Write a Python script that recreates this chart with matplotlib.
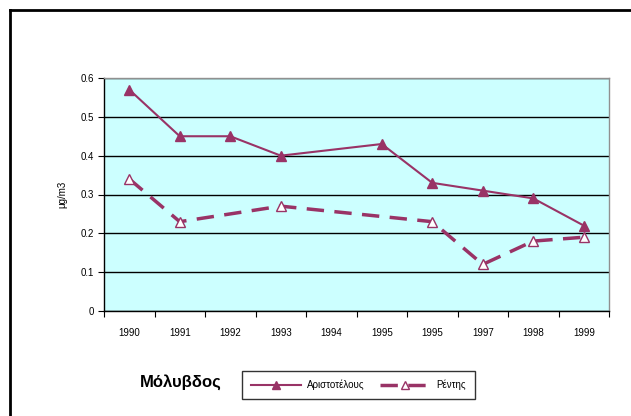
import numpy as np
import matplotlib
matplotlib.use("Agg")
import matplotlib.pyplot as plt
from matplotlib.lines import Line2D

plt.rcParams['font.family'] = ['Liberation Sans', 'DejaVu Sans']

years = ['1990', '1991', '1992', '1993', '1994', '1995', '1995', '1997', '1998', '1999']
aristotelous = [0.57, 0.45, 0.45, 0.40, np.nan, 0.43, 0.33, 0.31, 0.29, 0.22]
rentis = [0.34, 0.23, np.nan, 0.27, np.nan, np.nan, 0.23, 0.12, 0.18, 0.19]

color = '#993366'

fig = plt.figure(figsize=(6.31, 4.16), dpi=100)
ax = fig.add_axes([104/631, 1 - 311/416, 505/631, 233/416])
ax.set_facecolor('#CCFFFF')

x = np.arange(len(years))
a = np.array(aristotelous)
r = np.array(rentis)
ma = ~np.isnan(a)
mr = ~np.isnan(r)
ax.plot(x[ma], a[ma], color=color, lw=1.5, marker='^', ms=7,
        mfc=color, mec=color, label='Αριστοτέλους', zorder=3)
ax.plot(x[mr], r[mr], color=color, lw=2.5, ls=(0, (5, 3)), marker='^', ms=7,
        mfc='white', mec=color, mew=1.0, label='Ρέντης', zorder=3)

ax.set_xlim(-0.5, len(years) - 0.5)
ax.set_ylim(0, 0.6)
ax.set_yticks(np.arange(0, 0.61, 0.1))
ax.set_yticklabels(['0', '0.1', '0.2', '0.3', '0.4', '0.5', '0.6'], fontsize=7)
ax.yaxis.grid(True, color='black', lw=1)
ax.set_axisbelow(True)

ax.set_xticks(np.arange(-0.5, len(years), 1))
ax.set_xticklabels([])
ax.set_xticks(x, minor=True)
ax.set_xticklabels(years, minor=True, fontsize=7)
ax.tick_params(axis='x', which='minor', length=0, pad=12)
ax.tick_params(axis='x', which='major', length=4, direction='out', color='black')
ax.tick_params(axis='y', length=4, direction='out', pad=3)

for s in ['top', 'right']:
    ax.spines[s].set_color('#909090')
    ax.spines[s].set_linewidth(1)
for s in ['left', 'bottom']:
    ax.spines[s].set_color('black')
    ax.spines[s].set_linewidth(1)

ax.set_ylabel('μg/m3', fontsize=7, labelpad=10)

fig.text(140/631, 1 - 382/416, 'Μόλυβδος', fontsize=12, fontweight='bold',
         va='center', ha='left')
leg = fig.legend(loc='center left', bbox_to_anchor=(237/631, 1 - 385/416),
                 ncol=2, fontsize=7, handlelength=5.2, frameon=True,
                 fancybox=False, edgecolor='black', borderpad=0.9,
                 columnspacing=1.6, handletextpad=0.6, markerscale=0.8)
leg.get_frame().set_linewidth(1)

# outer frame: top and left only
fig.add_artist(Line2D([10/631, 1], [1 - 10/416, 1 - 10/416], color='black', lw=2,
                      transform=fig.transFigure))
fig.add_artist(Line2D([10/631, 10/631], [0, 1 - 10/416], color='black', lw=2,
                      transform=fig.transFigure))

fig.savefig('out.png', dpi=100)
